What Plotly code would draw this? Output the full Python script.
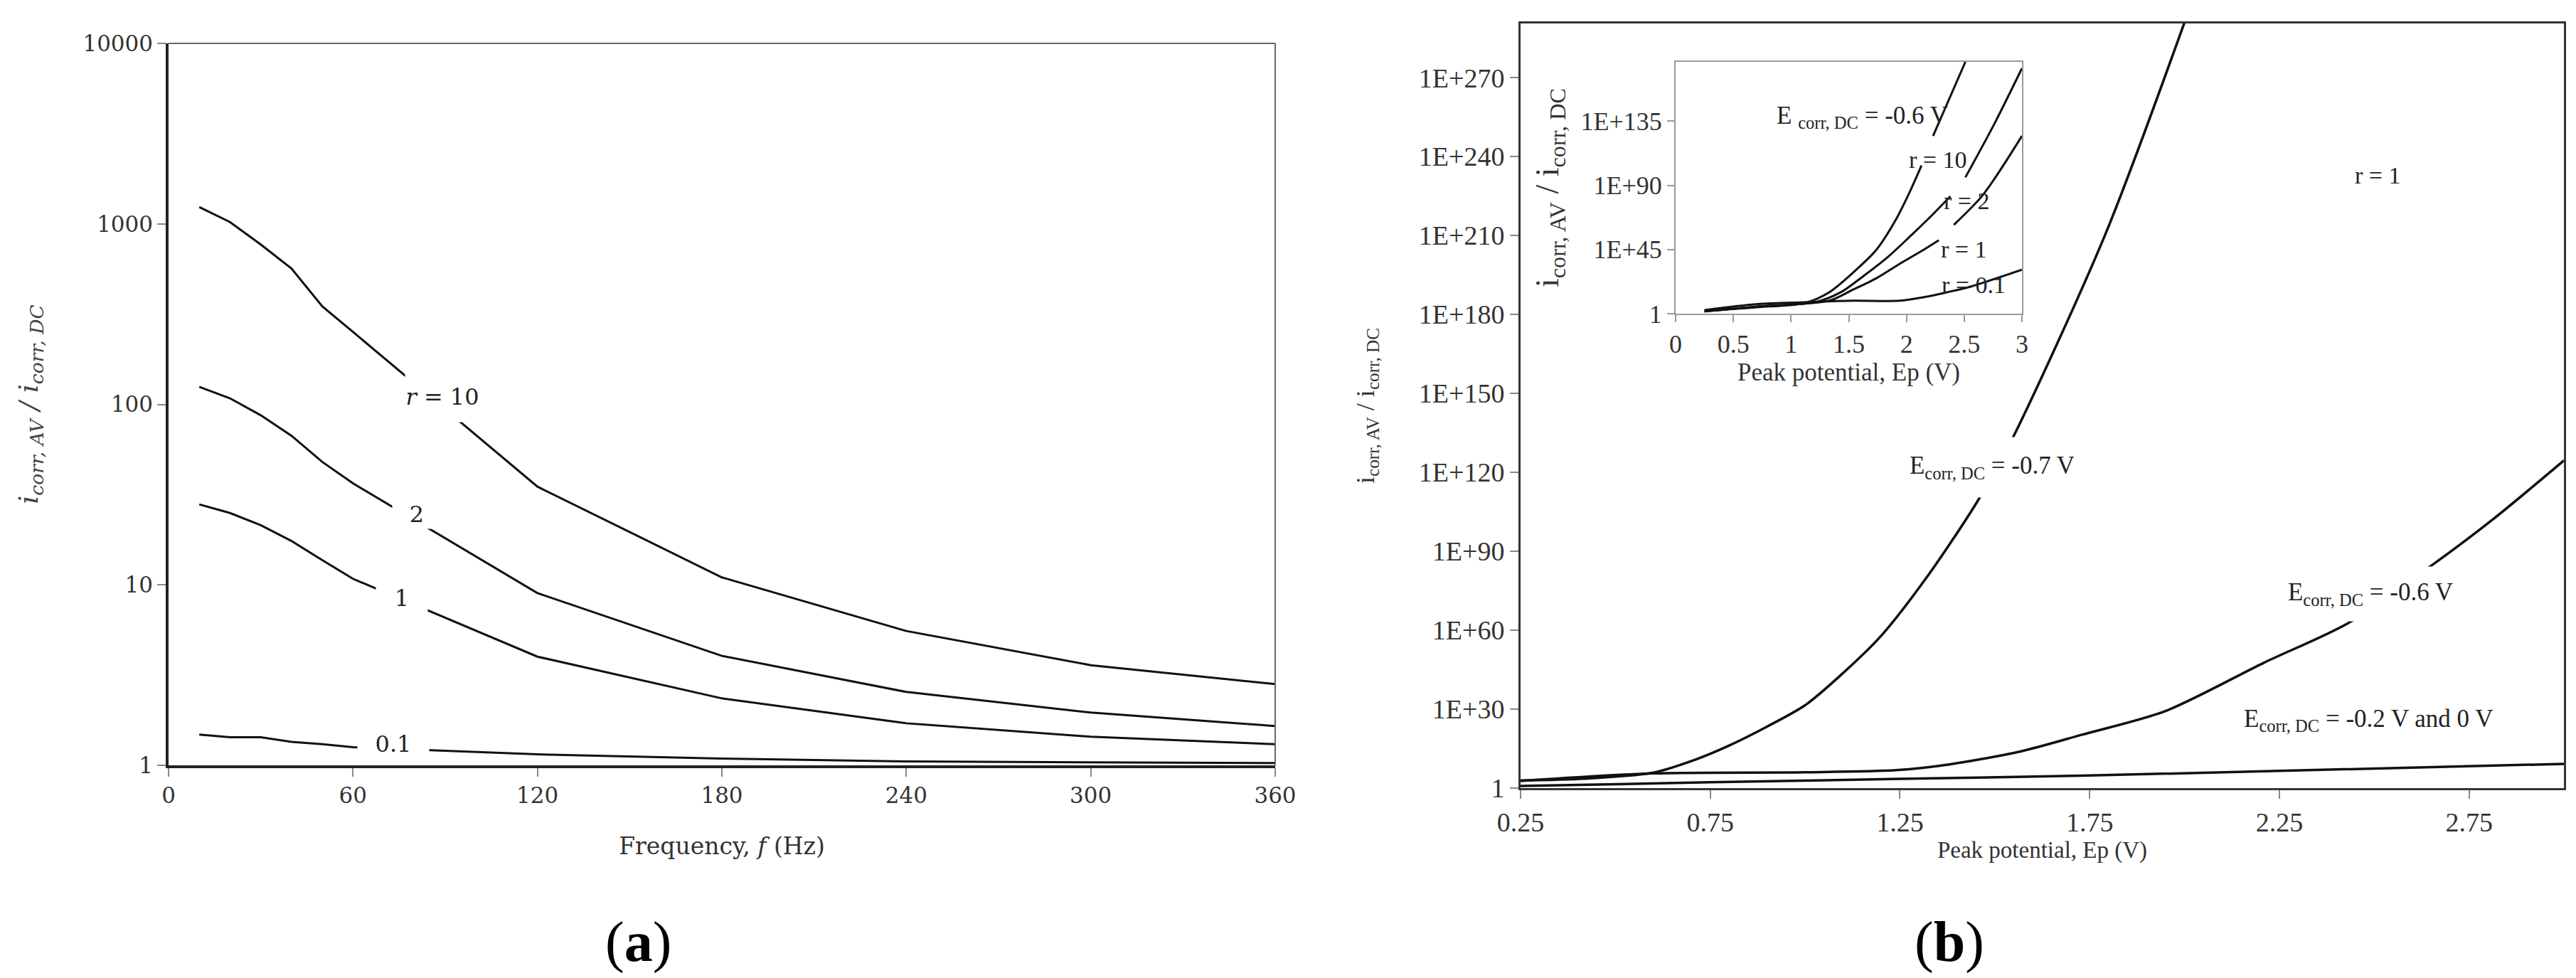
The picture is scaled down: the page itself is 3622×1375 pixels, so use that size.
"""Two-panel corrosion ratio chart: (a) vs frequency, (b) vs peak potential with inset."""
import plotly.graph_objects as go

# ---- panel (a): i_corr,AV / i_corr,DC against frequency ----
FREQ = [10, 20, 30, 40, 50, 60, 120, 180, 240, 300, 360]
A_R10 = [1238, 1023, 769, 566, 349, 252, 35, 11.0, 5.55, 3.59, 2.82]
A_R2 = [125, 108, 87, 67, 48, 36.5, 9.0, 4.04, 2.55, 1.96, 1.65]
A_R1 = [27.9, 25, 21.4, 17.5, 13.7, 10.8, 4.0, 2.35, 1.71, 1.44, 1.31]
A_R01 = [1.48, 1.43, 1.43, 1.35, 1.31, 1.26, 1.15, 1.09, 1.05, 1.04, 1.03]
A_YTICKS = [1, 10, 100, 1000, 10000]
A_YTEXT = ["1", "10", "100", "1000", "10000"]

# ---- panel (b): exponents (log10 of the ratio) against peak potential ----
EP_07 = [0.25, 0.42, 0.6, 0.71, 0.8, 0.9, 1.0, 1.09, 1.2, 1.32, 1.45, 1.54, 1.79, 2.0]
EXP_07 = [2.9, 3.6, 5.9, 10.8, 16.2, 23.4, 31.5, 42.4, 57.8, 80.0, 108, 131, 210, 291]
EP_06 = [0.25, 0.6, 1.0, 1.24, 1.38, 1.57, 1.73, 1.95, 2.21, 2.43, 2.63, 2.81, 3.0]
EXP_06 = [2.7, 5.6, 6.0, 6.8, 9.0, 14.0, 20.3, 29.3, 47.7, 62.6, 82.4, 101.8, 124.5]
EP_02 = [0.25, 0.75, 1.25, 1.73, 3.0]
EXP_02 = [0.8, 2.2, 3.5, 4.7, 9.2]
B_YTICKS = [1, 1e30, 1e60, 1e90, 1e120, 1e150, 1e180, 1e210, 1e240, 1e270]
B_YTEXT = ["1", "1E+30", "1E+60", "1E+90", "1E+120", "1E+150",
           "1E+180", "1E+210", "1E+240", "1E+270"]

# ---- inset of (b): E_corr,DC = -0.6 V for several r (None = break in line) ----
IN_EP_R10 = [0.25, 0.7, 1.12, 1.33, 1.53, 1.74, 1.9, 2.02, 2.13, None, 2.23, 2.51]
IN_EXP_R10 = [2.0, 4.5, 7.5, 15, 28.3, 44.9, 64.8, 84.0, 104, None, 124.7, 176.6]
IN_EP_R2 = [0.25, 0.7, 1.22, 1.43, 1.63, 1.84, 2.04, 2.21, 2.38, None, 2.51, 2.76, 3.0]
IN_EXP_R2 = [1.8, 4.8, 8.3, 15, 26.6, 39.9, 54.9, 68.2, 82.3, None, 95.6, 133, 172.1]
IN_EP_R1 = [0.25, 0.7, 1.33, 1.53, 1.74, 1.94, 2.15, 2.28, None, 2.41, 2.66, 3.0]
IN_EXP_R1 = [1.5, 5.0, 9.1, 16.6, 24.9, 34.9, 44.9, 51.5, None, 62.3, 83.1, 124.7]
IN_EP_R01 = [0.25, 0.71, 1.12, 1.53, 1.94, 2.15, 2.35, 2.56, 3.0]
IN_EXP_R01 = [2.5, 6.7, 8.0, 9.1, 9.1, 11.6, 15, 19.1, 30.8]
IN_YTICKS = [1, 1e45, 1e90, 1e135]
IN_YTEXT = ["1", "1E+45", "1E+90", "1E+135"]

SERIF_A = "DejaVu Serif"
SERIF_B = "Liberation Serif"
INK = "#111"


def _pow(exps):
    return [None if e is None else 10.0 ** e for e in exps]


fig = go.Figure()


def _line(x, y, xa, ya, width=3.2, smooth=False):
    line = dict(color=INK, width=width)
    if smooth:
        line.update(shape="spline", smoothing=0.8)
    fig.add_trace(go.Scatter(x=x, y=y, mode="lines", xaxis=xa, yaxis=ya, line=line,
                             showlegend=False, hoverinfo="skip"))


for ys in (A_R10, A_R2, A_R1, A_R01):
    _line(FREQ, ys, "x", "y", 3)

_line(EP_07, _pow(EXP_07), "x2", "y2", 3.5, smooth=True)
_line(EP_06, _pow(EXP_06), "x2", "y2", 3.5, smooth=True)
_line(EP_02, _pow(EXP_02), "x2", "y2", 3.5, smooth=True)

for xs, es in ((IN_EP_R10, IN_EXP_R10), (IN_EP_R2, IN_EXP_R2),
               (IN_EP_R1, IN_EXP_R1), (IN_EP_R01, IN_EXP_R01)):
    _line(xs, _pow(es), "x3", "y3", 3, smooth=True)

W, H = 3622, 1375

axis_common = dict(showgrid=False, zeroline=False, showline=True, mirror=True,
                   ticks="outside", ticklen=12, tickwidth=2, automargin=False)

fig.update_layout(
    width=W, height=H,
    margin=dict(l=0, r=0, t=0, b=0),
    paper_bgcolor="white", plot_bgcolor="white",
    font=dict(family=SERIF_B, color="#222"),
    # panel (a): thick left/bottom, thin grey top/right drawn as shapes below
    xaxis=dict(axis_common, domain=[229 / W, 1785 / W], range=[0, 360], mirror=False,
               tick0=0, dtick=60, linecolor="#222", linewidth=3.5, tickcolor="#888",
               tickfont=dict(family=SERIF_A, size=31, color="#333"),
               title=dict(text="Frequency, <i>f</i> (Hz)", standoff=44,
                          font=dict(family=SERIF_A, size=33, color="#333"))),
    yaxis=dict(axis_common, domain=[(H - 1068) / H, (H - 53) / H], type="log", mirror=False,
               range=[0, 4], tickvals=A_YTICKS, ticktext=A_YTEXT,
               linecolor="#222", linewidth=3.5, tickcolor="#888",
               tickfont=dict(family=SERIF_A, size=31, color="#333"),
               title=dict(text="<i>i</i><sub><i>corr, AV</i></sub><i> / i</i><sub><i>corr, DC</i></sub>",
                          standoff=52, font=dict(family=SERIF_A, size=38, color="#444"))),
    # panel (b)
    xaxis2=dict(axis_common, domain=[2130 / W, 3597 / W], range=[0.25, 3.0],
                tick0=0.25, dtick=0.5, linecolor="#333", linewidth=3, tickcolor="#888",
                tickfont=dict(size=38, color="#333"),
                title=dict(text="Peak potential, Ep (V)", standoff=6,
                           font=dict(size=33, color="#333"))),
    yaxis2=dict(axis_common, domain=[(H - 1100) / H, (H - 25) / H], type="log",
                range=[0, 290.6], tickvals=B_YTICKS, ticktext=B_YTEXT,
                linecolor="#333", linewidth=3, tickcolor="#888",
                tickfont=dict(size=38, color="#333"),
                title=dict(text="i<sub>corr, AV</sub> / i<sub>corr, DC</sub>", standoff=52,
                           font=dict(size=36, color="#333"))),
    # inset of (b)
    xaxis3=dict(axis_common, domain=[2348 / W, 2835 / W], range=[0, 3],
                tick0=0, dtick=0.5, anchor="y3", linecolor="#999", linewidth=2,
                tickcolor="#999", ticklen=10,
                tickfont=dict(size=36, color="#333"),
                title=dict(text="Peak potential, Ep (V)", standoff=4,
                           font=dict(size=35, color="#333"))),
    yaxis3=dict(axis_common, domain=[(H - 433) / H, (H - 79) / H], type="log",
                range=[0, 176.6], tickvals=IN_YTICKS, ticktext=IN_YTEXT, anchor="x3",
                linecolor="#999", linewidth=2, tickcolor="#999", ticklen=10,
                tickfont=dict(size=36, color="#333"),
                title=dict(text="i<sub>corr, AV</sub> / i<sub>corr, DC</sub>", standoff=16,
                           font=dict(size=46, color="#333"))),
)
fig.update_layout(xaxis2_anchor="y2", yaxis2_anchor="x2")

# thin grey top and right frame of panel (a)
fig.add_shape(type="line", xref="x domain", yref="y domain", x0=0, x1=1, y0=1, y1=1,
              line=dict(color="#666", width=2))
fig.add_shape(type="line", xref="x domain", yref="y domain", x0=1, x1=1, y0=0, y1=1,
              line=dict(color="#666", width=2))

annotations = []


def _label(text, x, y, xref, yref, size, family=SERIF_B, w=None, h=None, bg=False):
    a = dict(text=text, x=x, y=y, xref=xref, yref=yref, showarrow=False,
             font=dict(family=family, size=size, color="#222"),
             xanchor="center", yanchor="middle")
    if w:
        a["width"] = w
    if h:
        a["height"] = h
    if bg:
        a["bgcolor"] = "white"
        a["borderpad"] = 0
    annotations.append(a)


# curve labels in (a) -- white boxes break the lines like in the original
_label("<i>r</i> = 10", 89, 2.04, "x", "y", 32, SERIF_A, w=104, h=70, bg=True)
_label("2", 80.7, 1.39, "x", "y", 32, SERIF_A, w=68, h=40, bg=True)
_label("1", 76, 0.925, "x", "y", 32, SERIF_A, w=72, h=36, bg=True)
_label("0.1", 73, 0.118, "x", "y", 32, SERIF_A, w=100, h=32, bg=True)

# curve labels in (b)
_label("E<sub>corr, DC</sub> = -0.7 V", 1.493, 121.9, "x2", "y2", 35, w=230, h=84, bg=True)
_label("E<sub>corr, DC</sub> = -0.6 V", 2.49, 73.9, "x2", "y2", 35, w=232, h=76, bg=True)
_label("E<sub>corr, DC</sub> = -0.2 V and 0 V", 2.485, 25.7, "x2", "y2", 35)
_label("r = 1", 2.51, 232.8, "x2", "y2", 34)

# inset labels
_label("E <sub>corr, DC</sub> = -0.6 V", 1.62, 138, "x3", "y3", 35)
_label("r = 10", 2.27, 108, "x3", "y3", 34)
_label("r = 2", 2.52, 79, "x3", "y3", 34)
_label("r = 1", 2.50, 45, "x3", "y3", 34)
_label("r = 0.1", 2.58, 20, "x3", "y3", 34)

# panel tags
for tag, px in (("(<b>a</b>)", 889 / W), ("(<b>b</b>)", 2733 / W)):
    annotations.append(dict(text=tag, x=px, y=(H - 1316) / H, xref="paper", yref="paper",
                            showarrow=False, xanchor="center", yanchor="middle",
                            font=dict(family=SERIF_B, size=80, color="black")))

fig.update_layout(annotations=annotations)

fig.write_html("out.html")
